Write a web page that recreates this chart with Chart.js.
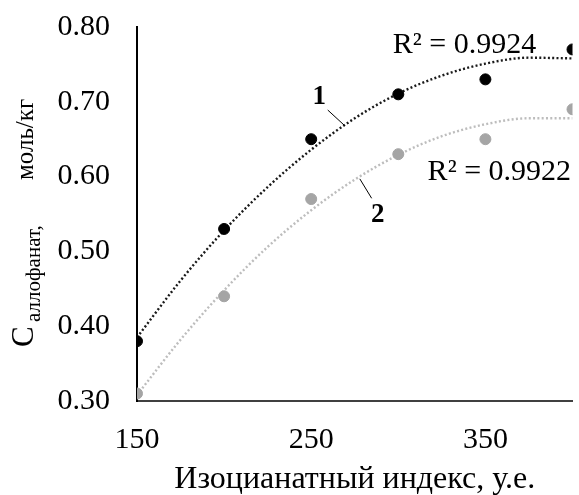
<!DOCTYPE html>
<html>
<head>
<meta charset="utf-8">
<script src="https://cdn.jsdelivr.net/npm/chart.js@4.4.1/dist/chart.umd.min.js"></script>
<style>
  html, body { margin: 0; padding: 0; background: #ffffff; }
  #wrap { width: 579px; height: 495px; position: relative; }
</style>
</head>
<body>
<div id="wrap"><canvas id="c"></canvas></div>
<script>
// ---- data ----
const isoIndex = [150, 200, 250, 300, 350, 400];
const series1 = [0.38, 0.53, 0.65, 0.71, 0.73, 0.77];
const series2 = [0.31, 0.44, 0.57, 0.63, 0.65, 0.69];
// dotted trend curves
const trendX  = [150, 175, 200, 225, 250, 275, 300, 325, 350, 375, 400];
const trend1  = [0.385, 0.461, 0.528, 0.586, 0.636, 0.678, 0.711, 0.735, 0.751, 0.759, 0.758];
const trend2  = [0.308, 0.382, 0.448, 0.506, 0.555, 0.596, 0.629, 0.654, 0.670, 0.678, 0.678];
const xTicks  = [150, 250, 350];
const yTicks  = [0.30, 0.40, 0.50, 0.60, 0.70, 0.80];
const r2Labels = ["R² = 0.9924", "R² = 0.9922"];
const curveLabels = ["1", "2"];

const SERIF = "'Liberation Serif', 'Times New Roman', serif";

const pts = (xs, ys) => xs.map((x, i) => ({ x: x, y: ys[i] }));

const annot = {
  id: 'annot',
  afterDatasetsDraw(chart) {
    const ctx = chart.ctx;
    const xs = chart.scales.x, ys = chart.scales.y;
    const px = v => xs.getPixelForValue(v), py = v => ys.getPixelForValue(v);
    ctx.save();
    ctx.fillStyle = '#000';
    ctx.textBaseline = 'middle';
    ctx.textAlign = 'center';
    ctx.font = '30px ' + SERIF;
    ctx.fillText(r2Labels[0], px(338), py(0.776));
    ctx.fillText(r2Labels[1], px(358), py(0.606));
    ctx.font = 'bold 27px ' + SERIF;
    ctx.fillText(curveLabels[0], px(254.6), py(0.706));
    ctx.fillText(curveLabels[1], px(288.2), py(0.548));
    ctx.strokeStyle = '#000';
    ctx.lineWidth = 1;
    ctx.beginPath();
    ctx.moveTo(px(259.5), py(0.689)); ctx.lineTo(px(269.3), py(0.668));
    ctx.moveTo(px(277.9), py(0.597)); ctx.lineTo(px(284.7), py(0.571));
    ctx.stroke();
    ctx.restore();
  }
};

const yTitle = {
  id: 'yTitle',
  afterDraw(chart) {
    const ctx = chart.ctx;
    ctx.save();
    ctx.translate(33, 347);
    ctx.rotate(-Math.PI / 2);
    ctx.fillStyle = '#000';
    ctx.textAlign = 'left';
    ctx.textBaseline = 'alphabetic';
    ctx.font = '31px ' + SERIF;
    ctx.fillText('C', 0, 0);
    ctx.font = '21px ' + SERIF;
    ctx.fillText('аллофанат,', 25, 7);
    ctx.font = '25px ' + SERIF;
    ctx.fillText('моль/кг', 167, 0);
    ctx.restore();
  }
};

new Chart(document.getElementById('c'), {
  type: 'scatter',
  data: {
    datasets: [
      { data: pts(isoIndex, series1), backgroundColor: '#000000', borderColor: '#000000',
        pointRadius: 5.5, pointHoverRadius: 5.5, showLine: false, order: 1 },
      { data: pts(isoIndex, series2), backgroundColor: '#a5a5a5', borderColor: '#a5a5a5',
        pointRadius: 5.5, pointHoverRadius: 5.5, showLine: false, order: 2 },
      { data: pts(trendX, trend1), showLine: true, borderColor: '#1a1a1a', borderWidth: 2.4,
        borderDash: [2, 2.3], pointRadius: 0, tension: 0.4, cubicInterpolationMode: 'monotone', order: 3 },
      { data: pts(trendX, trend2), showLine: true, borderColor: '#bdbdbd', borderWidth: 2.4,
        borderDash: [2, 2.3], pointRadius: 0, tension: 0.4, cubicInterpolationMode: 'monotone', order: 4 }
    ]
  },
  options: {
    responsive: true,
    maintainAspectRatio: false,
    animation: false,
    events: [],
    layout: { padding: { top: 27, right: 6, left: 0, bottom: 0 } },
    plugins: { legend: { display: false }, tooltip: { enabled: false } },
    scales: {
      x: {
        type: 'linear', min: 150, max: 400,
        afterBuildTicks: s => { s.ticks = xTicks.map(v => ({ value: v })); },
        afterFit: s => { s.height = 94; s.paddingLeft = 0; s.paddingRight = 0; },
        grid: { display: false, drawTicks: false },
        border: { display: true, color: '#404040', width: 2 },
        ticks: { color: '#000', font: { family: SERIF, size: 30 }, padding: 21, maxRotation: 0, autoSkip: false },
        title: { display: true, text: 'Изоцианатный индекс, у.е.', color: '#000',
                 font: { family: SERIF, size: 32, lineHeight: 0.95 }, padding: { top: 4, bottom: 0 } }
      },
      y: {
        type: 'linear', min: 0.30, max: 0.80,
        afterBuildTicks: s => { s.ticks = yTicks.map(v => ({ value: v })); },
        afterFit: s => { s.width = 137; s.paddingTop = 0; s.paddingBottom = 0; },
        grid: { display: false, drawTicks: false },
        border: { display: true, color: '#000', width: 2 },
        ticks: { color: '#000', font: { family: SERIF, size: 30 }, padding: 27,
                 callback: v => v.toFixed(2) }
      }
    }
  },
  plugins: [annot, yTitle]
});
</script>
</body>
</html>
